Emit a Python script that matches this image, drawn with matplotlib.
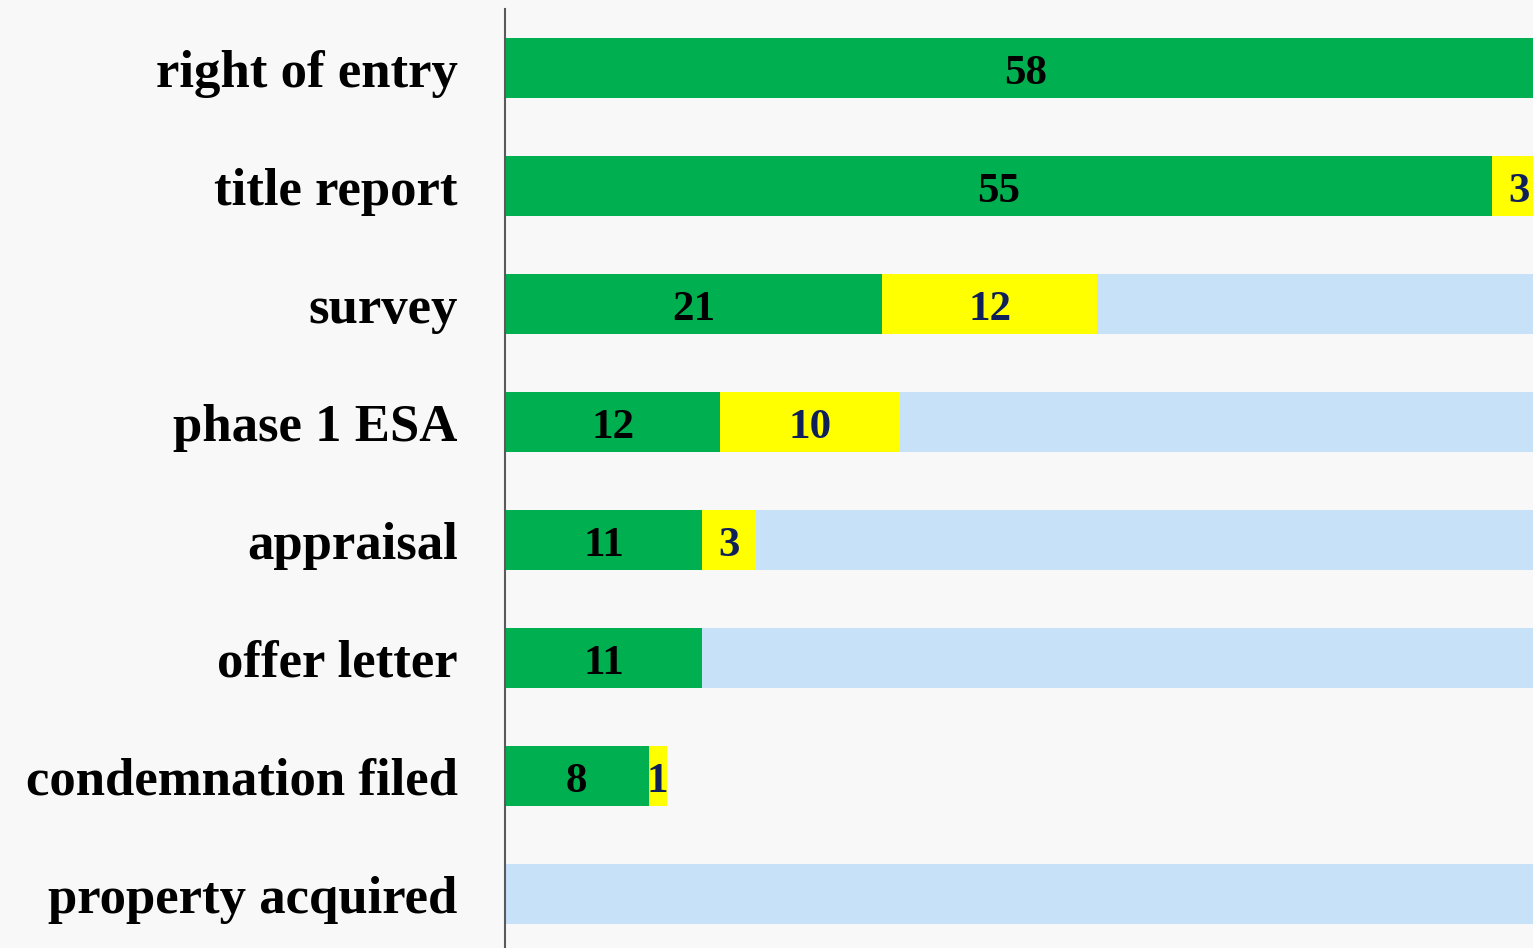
import numpy as np
import matplotlib.pyplot as plt

# data
tasks = ['right of entry', 'title report', 'survey', 'phase 1 ESA',
         'appraisal', 'offer letter', 'condemnation filed', 'property acquired']
done = [58, 55, 21, 12, 11, 11, 8, 0]
in_progress = [0, 3, 12, 10, 3, 0, 1, 0]
remaining = [0, 0, 25, 36, 44, 47, 0, 58]

green = '#00B050'
yellow = '#FFFF00'
blue = '#C7E1F9'

plt.rcParams['font.family'] = ['Liberation Serif', 'DejaVu Serif']

fig = plt.figure(figsize=(15.33, 9.48), dpi=100, facecolor='#F8F8F8')
ax = fig.add_axes([505 / 1533, 0, 1 - 505 / 1533, 939 / 948])
ax.set_facecolor('#F8F8F8')

y = np.arange(len(tasks))
h = 0.51
left2 = np.array(done)
left3 = left2 + np.array(in_progress)

ax.barh(y, done, height=h, color=green)
ax.barh(y, in_progress, left=left2, height=h, color=yellow)
ax.barh(y, remaining, left=left3, height=h, color=blue)

# value labels
for i in range(len(tasks)):
    if done[i] > 0:
        ax.text(done[i] / 2, y[i] + 0.05, str(done[i]), ha='center', va='center',
                fontsize=31, fontweight='bold', color='black')
    if in_progress[i] > 0:
        ax.text(done[i] + in_progress[i] / 2, y[i] + 0.05, str(in_progress[i]),
                ha='center', va='center', fontsize=31, fontweight='bold',
                color='#0F1F5A')

ax.set_xlim(0, 57.27)
ax.set_ylim(7 + 54 / 118, -0.5)
ax.set_yticks(y)
ax.set_yticklabels(tasks, fontsize=38, fontweight='bold')
ax.tick_params(axis='y', length=0, pad=34)
ax.set_xticks([])

for s in ['top', 'right', 'bottom']:
    ax.spines[s].set_visible(False)
ax.spines['left'].set_color('#5A5A5A')
ax.spines['left'].set_linewidth(1.5)

plt.savefig('out.png', dpi=100, facecolor=fig.get_facecolor())
